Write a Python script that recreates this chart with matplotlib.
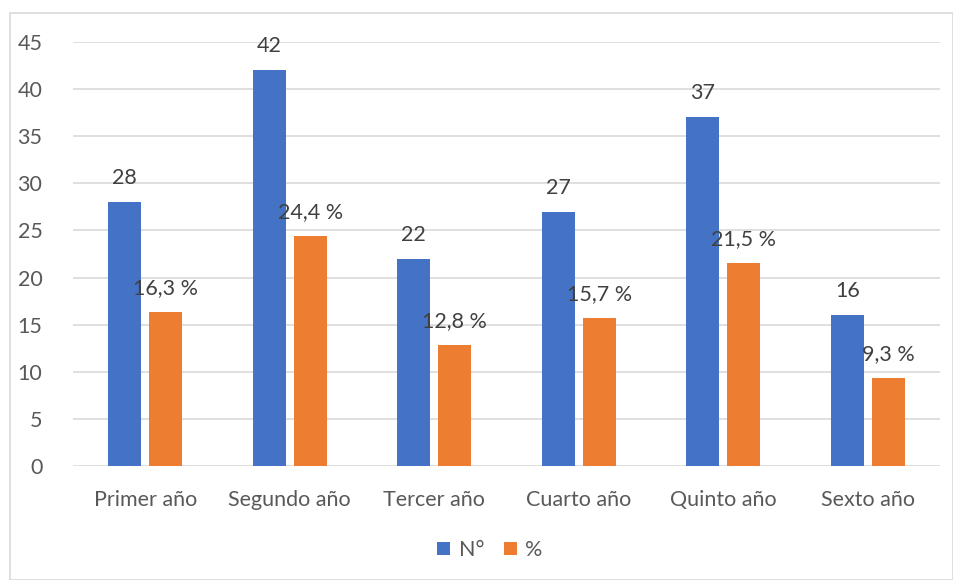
import matplotlib
matplotlib.use("Agg")
import matplotlib.pyplot as plt
from matplotlib.patches import Rectangle
import numpy as np

categories = ["Primer año", "Segundo año", "Tercer año", "Cuarto año", "Quinto año", "Sexto año"]
n_values = [28, 42, 22, 27, 37, 16]
pct_values = [16.3, 24.4, 12.8, 15.7, 21.5, 9.3]
yticks = [0, 5, 10, 15, 20, 25, 30, 35, 40, 45]

plt.rcParams['font.family'] = ['Lato', 'DejaVu Sans']

W, H = 954, 580
fig = plt.figure(figsize=(W/100, H/100), dpi=100)
ax = fig.add_axes([73/W, 1-466/H, (940-73)/W, (466-42)/H])

x = np.arange(len(categories))
bw = 0.228
gap = 0.055
off = (bw + gap) / 2
blue = "#4472C4"
orange = "#ED7D31"
fs = 15.5
b1 = ax.bar(x - off, n_values, bw, color=blue, label="N°", zorder=3)
b2 = ax.bar(x + off, pct_values, bw, color=orange, label="%", zorder=3)

for xi, v in zip(x, n_values):
    ax.annotate(f"{v}", (xi - off, v), xytext=(0, 10), textcoords="offset points",
                ha="center", va="bottom", fontsize=fs, color="#404040")
for xi, v in zip(x, pct_values):
    ax.annotate(f"{v:.1f} %".replace(".", ","), (xi + off, v), xytext=(0, 10),
                textcoords="offset points", ha="center", va="bottom", fontsize=fs, color="#404040")

ax.set_xlim(-0.5, len(categories) - 0.5)
ax.set_ylim(0, 45)
ax.set_yticks(yticks)
ax.set_xticks(x)
ax.set_xticklabels(categories)
ax.yaxis.grid(True, color="#D9D9D9", linewidth=1.2, zorder=0)
for s in ax.spines.values():
    s.set_visible(False)
ax.tick_params(axis="both", length=0, labelsize=fs, labelcolor="#595959")
ax.tick_params(axis="x", pad=17)
ax.tick_params(axis="y", pad=22)

leg = fig.legend(handles=[b1, b2], labels=["N°", "%"], loc="center",
                 bbox_to_anchor=(490/W, 1-550/H), ncol=2, frameon=False,
                 fontsize=fs, handlelength=0.6, handleheight=0.6,
                 columnspacing=0.9, handletextpad=0.4)
for t in leg.get_texts():
    t.set_color("#595959")

fig.patches.append(Rectangle((10/W, 0), (W-11)/W, 1-13/H, transform=fig.transFigure,
                             fill=False, edgecolor="#D9D9D9", linewidth=1.2))

fig.savefig("out.png", dpi=100)
